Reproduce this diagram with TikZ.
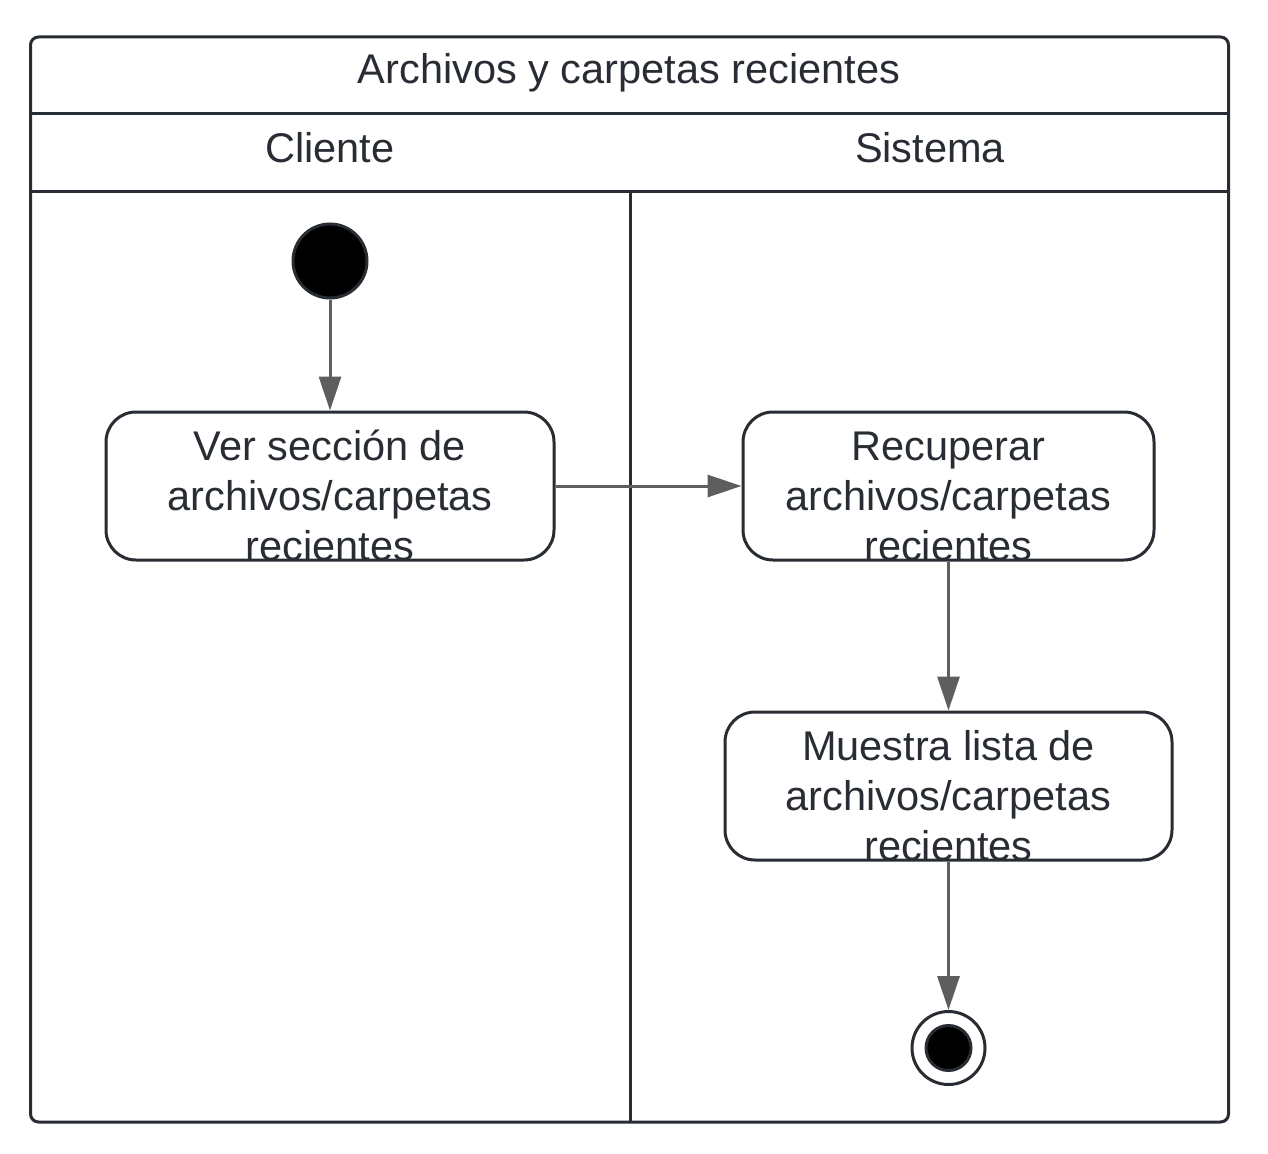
\documentclass[tikz,border=0pt]{standalone}
\usepackage{fontspec}
\setmainfont{Liberation Sans}
\usetikzlibrary{arrows.meta}
\definecolor{ink}{HTML}{282C33}
\definecolor{flowgray}{HTML}{5E5E5E}
\tikzset{
  frameline/.style={draw=ink, line width=3pt},
  actbox/.style={draw=ink, line width=3pt, rounded corners=30pt, fill=white, inner sep=0pt},
  lbl/.style={text=ink, font=\fontsize{41.5}{50}\selectfont, inner sep=0pt, align=center},
  startnode/.style={circle, draw=ink, fill=black, line width=3pt, minimum size=74pt, inner sep=0pt},
  endnode/.style={circle, draw=ink, fill=white, line width=3pt, minimum size=73pt, inner sep=0pt},
  flow/.style={draw=flowgray, line width=3pt, -{Triangle[length=34pt,width=22pt]}},
}
\begin{document}
\begin{tikzpicture}[x=1pt,y=-1pt]
\useasboundingbox[fill=white] (0,0) rectangle (1268,1153);
% frame
\draw[frameline, rounded corners=8pt] (30.5,37) rectangle (1228.5,1122);
\draw[frameline] (30.5,113.5) -- (1228.5,113.5);
\draw[frameline] (30.5,191) -- (1228.5,191);
\draw[frameline] (630,191) -- (630,1122);
% headers
\node[lbl, anchor=base] (title) at (629,84) {Archivos y carpetas recientes};
\node[lbl, anchor=base] (cliente) at (330,162) {Cliente};
\node[lbl, anchor=base] (sistema) at (930,162) {Sistema};
% nodes
\node[startnode] (start) at (330,261) {};
\node[actbox, minimum width=448pt, minimum height=148pt] (a1) at (330,486) {};
\node[actbox, minimum width=411pt, minimum height=148pt] (a2) at (948.5,486) {};
\node[actbox, minimum width=447pt, minimum height=148pt] (a3) at (948.5,786) {};
\node[endnode] (end) at (948.5,1048) {};
\fill[black, draw=ink, line width=3pt] (end.center) circle (22.5pt);
% labels (anchor base = last line)
\node[lbl, anchor=base] (t1) at (330,560) {Ver sección de\\archivos/carpetas\\recientes};
\node[lbl, anchor=base] (t2) at (948.5,560) {Recuperar\\archivos/carpetas\\recientes};
\node[lbl, anchor=base] (t3) at (948.5,860) {Muestra lista de\\archivos/carpetas\\recientes};
% connectors
\draw[flow] (start) -- (a1);
\draw[flow] (a1.east) -- (a2.west);
\draw[flow] (a2.south) -- (a3.north);
\draw[flow] (a3.south) -- (end.north);
\end{tikzpicture}
\end{document}
